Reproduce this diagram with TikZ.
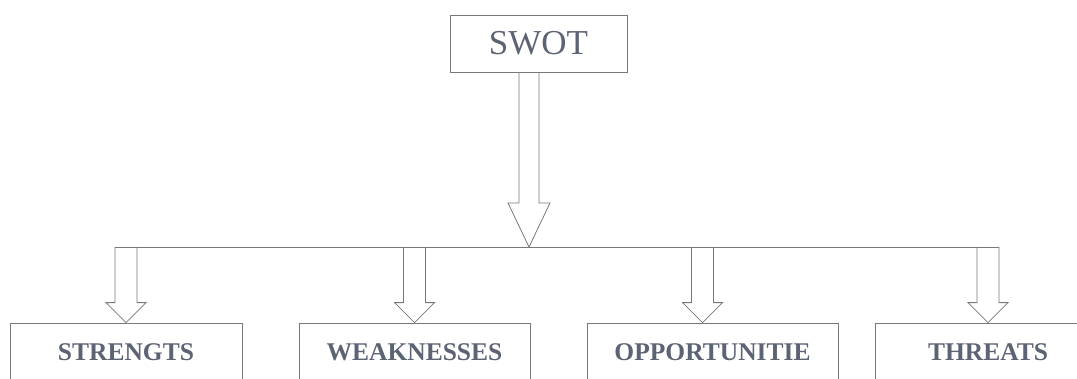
\documentclass[tikz,border=0pt]{standalone}
\usepackage{fontspec}
\setmainfont{Liberation Serif}
\usetikzlibrary{calc}

\definecolor{linegray}{RGB}{120,120,120}
\definecolor{textgray}{RGB}{92,99,114}

% from, tip, shaft half width, head half width, head length
\newcommand{\hollowarrow}[5]{%
  \draw[outline] ($(#1)+(-#3,0)$) -- ($(#2)+(-#3,#5)$) -- ($(#2)+(-#4,#5)$) -- (#2)
    -- ($(#2)+(#4,#5)$) -- ($(#2)+(#3,#5)$) -- ($(#1)+(#3,0)$);}

\begin{document}
\begin{tikzpicture}[x=1pt,y=1pt]
  \tikzstyle{outline}=[draw=linegray,line width=0.8pt]
  \tikzstyle{topbox}=[draw=linegray,line width=0.8pt,text=textgray,font=\fontsize{35}{40}\selectfont,minimum width=177pt,minimum height=57pt,inner sep=0pt]
  \tikzstyle{part}=[draw=linegray,line width=0.8pt,text=textgray,font=\fontsize{25.5}{30}\selectfont\bfseries,minimum height=58pt,inner sep=0pt]

  \useasboundingbox (0,0) rectangle (1077,378);
  \clip (0,0) rectangle (1077,378);

  \node[topbox]                  (S)  at (538.5,334.5) {SWOT};

  \node[part,minimum width=232pt] (st) at (126,26)   {STRENGTS};
  \node[part,minimum width=231pt] (we) at (414.5,26) {WEAKNESSES};
  \node[part,minimum width=251pt] (op) at (712.5,26) {OPPORTUNITIE};
  \node[part,minimum width=226pt] (th) at (988,26)   {THREATS};

  \coordinate (busy) at (0,131);
  \coordinate (Sout) at ($(S.south)+(-9.5,0)$);
  \coordinate (bus) at (Sout |- busy);
  \hollowarrow{Sout}{bus}{10}{21}{44}

  \coordinate (optip) at ($(op.north)+(-10,0)$);
  \coordinate (sttop) at (st.north |- busy);
  \coordinate (wetop) at (we.north |- busy);
  \coordinate (optop) at (optip |- busy);
  \coordinate (thtop) at (th.north |- busy);

  \draw[outline] ($(sttop)+(-11,0)$) -- ($(thtop)+(11,0)$);

  \hollowarrow{sttop}{st.north}{11}{20}{20}
  \hollowarrow{wetop}{we.north}{11}{20}{20}
  \hollowarrow{optop}{optip}{11}{20}{20}
  \hollowarrow{thtop}{th.north}{11}{20}{20}

\end{tikzpicture}
\end{document}
